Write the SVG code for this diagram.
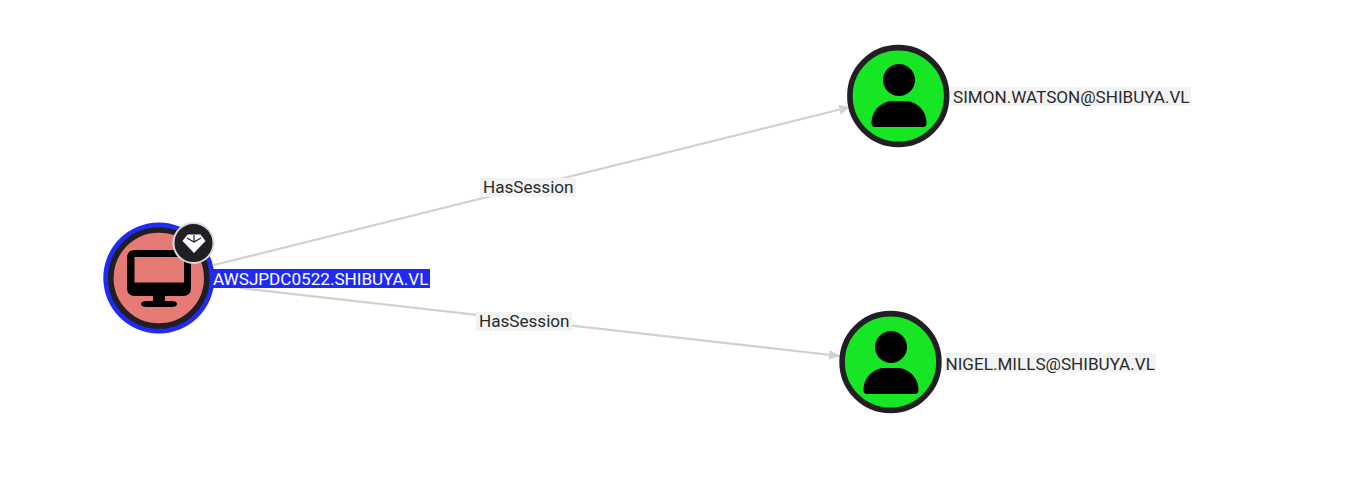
<svg xmlns="http://www.w3.org/2000/svg" width="1345" height="496" viewBox="0 0 1345 496">
<style>
text{font-family:Roboto,"Liberation Sans",sans-serif;font-size:17.100px;fill:#2a2a2a}
.bg{fill:#f3f3f3}
.edge{fill:none;stroke:#d2d0d0;stroke-width:2.200;marker-end:url(#arrow)}
.ring{stroke:#211f24;stroke-width:5.600}
.user{fill:#17e625}
.icon{fill:#000}
</style>
<defs>
<marker id="arrow" markerUnits="userSpaceOnUse" markerWidth="12" markerHeight="10" refX="11" refY="5" orient="auto"><path d="M0 0L11 5L0 10Z" fill="#d2d0d0"/></marker>
<g id="person">
<circle cx="0" cy="-16" r="16" class="icon"/>
<path class="icon" d="M-27.500 27C-27.500 13 -16 5 -6 5H6C16 5 27.500 13 27.500 27Q27.500 31 24 31H-24Q-27.500 31 -27.500 27Z"/>
</g>
</defs>
<rect width="1345" height="496" fill="#fff"/>
<g id="connectors">
<path class="edge" d="M214 265L850 107"/>
<path class="edge" d="M240 288L840 356"/>
<rect class="bg" x="480" y="178" width="96" height="19"/>
<text x="483" y="193">HasSession</text>
<rect class="bg" x="476" y="312" width="96" height="19"/>
<text x="479" y="327">HasSession</text>
</g>
<g id="node-computer">
<circle cx="158.800" cy="278" r="55.500" fill="#1f2bf5"/>
<circle cx="158.800" cy="278" r="48" fill="#e67a75" class="ring"/>
<path class="icon" fill-rule="evenodd" d="M135 250H183Q191 250 191 258V288Q191 296 183 296H165V301H171Q177 301 177 304Q177 307 171 307H147Q141 307 141 304Q141 301 147 301H153V296H135Q127 296 127 288V258Q127 250 135 250ZM134.500 257V282.500H184V257Z"/>
<circle cx="193.500" cy="243" r="20" fill="#211f24" stroke="#dcdcdc" stroke-width="2"/>
<path fill="#fff" d="M187.500 234.500H200.500L205.500 241L194 253L182.500 241Z"/>
<path fill="none" stroke="#211f24" stroke-width="1.200" d="M187 238L194 242L201 238M194 235V242"/>
<rect x="212" y="269" width="218" height="19" fill="#1f2bf5"/>
<text x="213" y="285" style="fill:#fff">AWSJPDC0522.SHIBUYA.VL</text>
</g>
<g id="node-simon">
<circle cx="898.300" cy="96" r="48.400" class="user ring"/>
<use href="#person" x="899" y="96"/>
<rect class="bg" x="950" y="87" width="241" height="19"/>
<text x="953" y="103">SIMON.WATSON@SHIBUYA.VL</text>
</g>
<g id="node-nigel">
<circle cx="890.500" cy="362" r="48.400" class="user ring"/>
<use href="#person" x="891" y="363"/>
<rect class="bg" x="945" y="353" width="211" height="19"/>
<text x="945.500" y="370">NIGEL.MILLS@SHIBUYA.VL</text>
</g>
</svg>
